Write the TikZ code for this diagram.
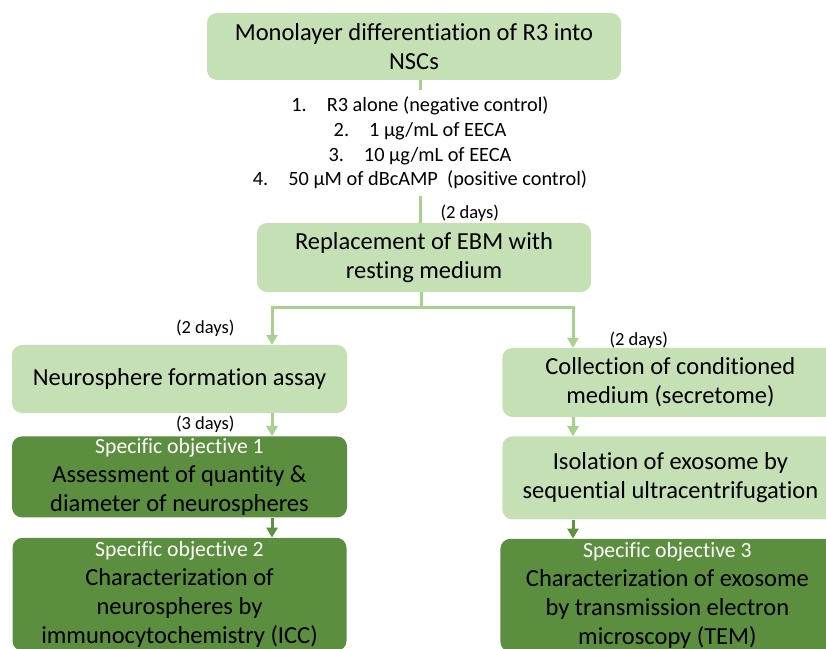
\documentclass[tikz,border=0pt]{standalone}
\usepackage{fontspec}
\setmainfont{Carlito}[Ligatures=NoCommon]
\usetikzlibrary{
        arrows.meta,
        calc,
        positioning
    }
\definecolor{paleleaf}{HTML}{C5E0B4}
\definecolor{deepleaf}{HTML}{5B8E3E}
\definecolor{stemgreen}{HTML}{A9D18E}
\definecolor{stemdark}{HTML}{5E9140}
\tikzset{>={Triangle[width=11pt,length=10pt]},node distance=20pt}
\tikzset{
    stage/.style={rectangle,rounded corners=10pt,fill=paleleaf,align=center,
        inner sep=0pt,font=\fontsize{24.5}{29}\selectfont},
    goal/.style={stage,fill=deepleaf},
    flow/.style={line width=3pt,draw=stemgreen},
    days/.style={inner sep=0pt,font=\fontsize{18.5}{22}\selectfont}
}
\newcommand{\objtitle}[1]{{\fontsize{21.7}{29}\selectfont\color{white}#1}}

\begin{document}
\begin{tikzpicture}[x=1pt,y=1pt]
    \useasboundingbox (0,0) rectangle (826,648);
    \clip (0,0) rectangle (826,648);
    % main column
    \node[stage,minimum width=414pt,minimum height=67pt] (mono) at (414,601.5)
        {Monolayer differentiation of R3 into\\NSCs};
    \node[align=center,inner sep=7pt,font=\fontsize{20.3}{24.7}\selectfont] (treat) at (420,505) {
        1.\hspace{20pt}R3 alone (negative control)\\
        2.\hspace{20pt}1 µg/mL of EECA\\
        3.\hspace{20pt}10 µg/mL of EECA\\
        4.\hspace{20pt}50 µM of dBcAMP\ \ (positive control)
        };
    \node[stage,minimum width=334pt,minimum height=69pt] (repl) at (424,390.5)
        {Replacement of EBM with\\resting medium};
    % left branch
    \node[stage,minimum width=335pt,minimum height=68pt] (neuro) at (179.5,269)
        {Neurosphere formation assay};
    \node[goal,minimum width=335pt,minimum height=81pt] (obj1) [below=23pt of neuro] {
        \objtitle{Specific objective 1}\\
        Assessment of quantity \&\\
        diameter of neurospheres
        };
    \node[goal,minimum width=334pt,minimum height=113pt] (obj2) [below=20pt of obj1] {
        \objtitle{Specific objective 2}\\
        Characterization of\\
        neurospheres by\\
        immunocytochemistry (ICC)
        };
    % right branch
    \node[stage,minimum width=336pt,minimum height=69pt] (collect) [right=155pt of neuro,yshift=-3.5pt]
        {Collection of conditioned\\medium (secretome)};
    \node[stage,minimum width=336pt,minimum height=83pt] (isol) [below=19pt of collect]
        {Isolation of exosome by\\sequential ultracentrifugation};
    \node[goal,minimum width=334pt,minimum height=113pt] (obj3) [below=19pt of isol,xshift=-3pt] {
        \objtitle{Specific objective 3}\\
        Characterization of exosome\\
        by transmission electron\\
        microscopy (TEM)
        };
    \coordinate (fork) at (421,340);
    \coordinate (lcol) at (272,0);
    \coordinate (rcol) at (573,0);
    \draw[flow] (treat.north |- mono.south) -- (treat.north);
    \draw[flow] (treat.south) -- (treat.south |- repl.north)
        node[days,pos=0.62,anchor=west,xshift=19pt] {(2 days)};
    \draw[flow] (repl.south -| fork) -- (fork);
    \draw[flow,->] (fork) -| (lcol |- neuro.north)
        node[days,pos=0.75,anchor=east,xshift=-36pt,yshift=-1.5pt] {(2 days)};
    \draw[flow,->] (fork) -| (rcol |- collect.north)
        node[days,pos=0.75,anchor=west,xshift=35pt,yshift=-12pt] {(2 days)};
    \draw[flow,->] (lcol |- neuro.south) -- (lcol |- obj1.north)
        node[days,midway,anchor=east,xshift=-36pt] {(3 days)};
    \draw[flow,->,draw=stemdark] (lcol |- obj1.south) -- (lcol |- obj2.north);
    \draw[flow,->] (rcol |- collect.south) -- (rcol |- isol.north);
    \draw[flow,->,draw=stemdark] (rcol |- isol.south) -- (rcol |- obj3.north);
\end{tikzpicture}
\end{document}
